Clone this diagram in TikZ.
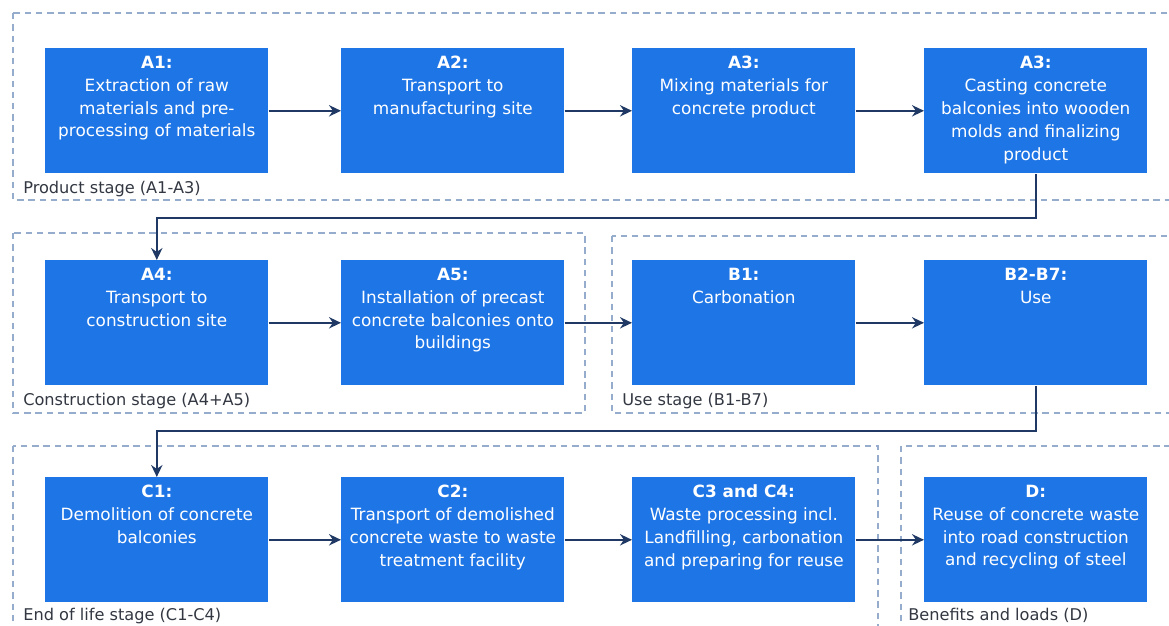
\documentclass[tikz,border=0pt]{standalone}
\usepackage{fontspec}
\setmainfont{DejaVu Sans}
\usetikzlibrary{arrows.meta}
\definecolor{stageblue}{RGB}{30,117,230}
\definecolor{flownavy}{RGB}{31,56,100}
\definecolor{framegray}{RGB}{150,172,205}
\definecolor{labelgray}{RGB}{50,55,65}

\begin{document}
\begin{tikzpicture}[x=0.025cm, y=-0.025cm,
  stagebox/.style={fill=stageblue, draw=none, minimum width=5.575cm,
    minimum height=3.125cm, inner sep=0pt, anchor=north west},
  boxtext/.style={text=white, align=center, inner sep=0pt, anchor=north,
    font=\fontsize{12}{16.3}\selectfont},
  stageframe/.style={draw=framegray, line width=1.2pt, dash pattern=on 4.6pt off 3.4pt},
  framelabel/.style={text=labelgray, inner sep=0pt, anchor=base west,
    font=\fontsize{11.5}{14}\selectfont},
  flow/.style={draw=flownavy, line width=1.4pt, -{Stealth[length=8.5pt, width=8pt]}}]

  % Page
  \clip (0,0) rectangle (1169,625);

  % Stage frames
  \draw[stageframe] (13,13) rectangle (1185,200);
  \draw[stageframe] (13,233) rectangle (585,413);
  \draw[stageframe] (612,236) rectangle (1185,413);
  \draw[stageframe] (13,446) rectangle (878,640);
  \draw[stageframe] (901,446) rectangle (1185,640);

  \node[framelabel] (lprod) at (23,193) {Product stage (A1-A3)};
  \node[framelabel] (lcons) at (23,405) {Construction stage (A4+A5)};
  \node[framelabel] (luse) at (622,405) {Use stage (B1-B7)};
  \node[framelabel] (leol) at (23,620) {End of life stage (C1-C4)};
  \node[framelabel] (lben) at (908,620) {Benefits and loads (D)};

  % Product stage
  \node[stagebox] (a1) at (45,48) {};
  \node[stagebox] (a2) at (341,48) {};
  \node[stagebox] (a3) at (632,48) {};
  \node[stagebox] (a3b) at (924,48) {};
  \node[boxtext] (a1t) at ([yshift=-0.19cm]a1.north)
    {\textbf{A1:}\\Extraction of raw\\materials and pre-\\processing of materials};
  \node[boxtext] (a2t) at ([yshift=-0.19cm]a2.north)
    {\textbf{A2:}\\Transport to\\manufacturing site};
  \node[boxtext] (a3t) at ([yshift=-0.19cm]a3.north)
    {\textbf{A3:}\\Mixing materials for\\concrete product};
  \node[boxtext] (a3bt) at ([yshift=-0.19cm]a3b.north)
    {\textbf{A3:}\\Casting concrete\\balconies into wooden\\molds and finalizing\\product};

  % Construction and use stage
  \node[stagebox] (a4) at (45,260) {};
  \node[stagebox] (a5) at (341,260) {};
  \node[stagebox] (b1) at (632,260) {};
  \node[stagebox] (b2) at (924,260) {};
  \node[boxtext] (a4t) at ([yshift=-0.19cm]a4.north)
    {\textbf{A4:}\\Transport to\\construction site};
  \node[boxtext] (a5t) at ([yshift=-0.19cm]a5.north)
    {\textbf{A5:}\\Installation of precast\\concrete balconies onto\\buildings};
  \node[boxtext] (b1t) at ([yshift=-0.19cm]b1.north)
    {\textbf{B1:}\\Carbonation};
  \node[boxtext] (b2t) at ([yshift=-0.19cm]b2.north)
    {\textbf{B2-B7:}\\Use};

  % End of life and benefits
  \node[stagebox] (c1) at (45,477) {};
  \node[stagebox] (c2) at (341,477) {};
  \node[stagebox] (c3) at (632,477) {};
  \node[stagebox] (d) at (924,477) {};
  \node[boxtext] (c1t) at ([yshift=-0.19cm]c1.north)
    {\textbf{C1:}\\Demolition of concrete\\balconies};
  \node[boxtext] (c2t) at ([yshift=-0.19cm]c2.north)
    {\textbf{C2:}\\Transport of demolished\\concrete waste to waste\\treatment facility};
  \node[boxtext] (c3t) at ([yshift=-0.19cm]c3.north)
    {\textbf{C3 and C4:}\\Waste processing incl.\\Landfilling, carbonation\\and preparing for reuse};
  \node[boxtext] (dt) at ([yshift=-0.19cm]d.north)
    {\textbf{D:}\\Reuse of concrete waste\\into road construction\\and recycling of steel};

  % Flow
  \draw[flow] (a1) -- (a2);
  \draw[flow] (a2) -- (a3);
  \draw[flow] (a3) -- (a3b);
  \draw[flow] (a3b.south) -- ++(0,44) -| (a4.north);
  \draw[flow] (a4) -- (a5);
  \draw[flow] (a5) -- (b1);
  \draw[flow] (b1) -- (b2);
  \draw[flow] (b2.south) -- ++(0,45) -| (c1.north);
  \draw[flow] (c1) -- (c2);
  \draw[flow] (c2) -- (c3);
  \draw[flow] (c3) -- (d);

\end{tikzpicture}
\end{document}
